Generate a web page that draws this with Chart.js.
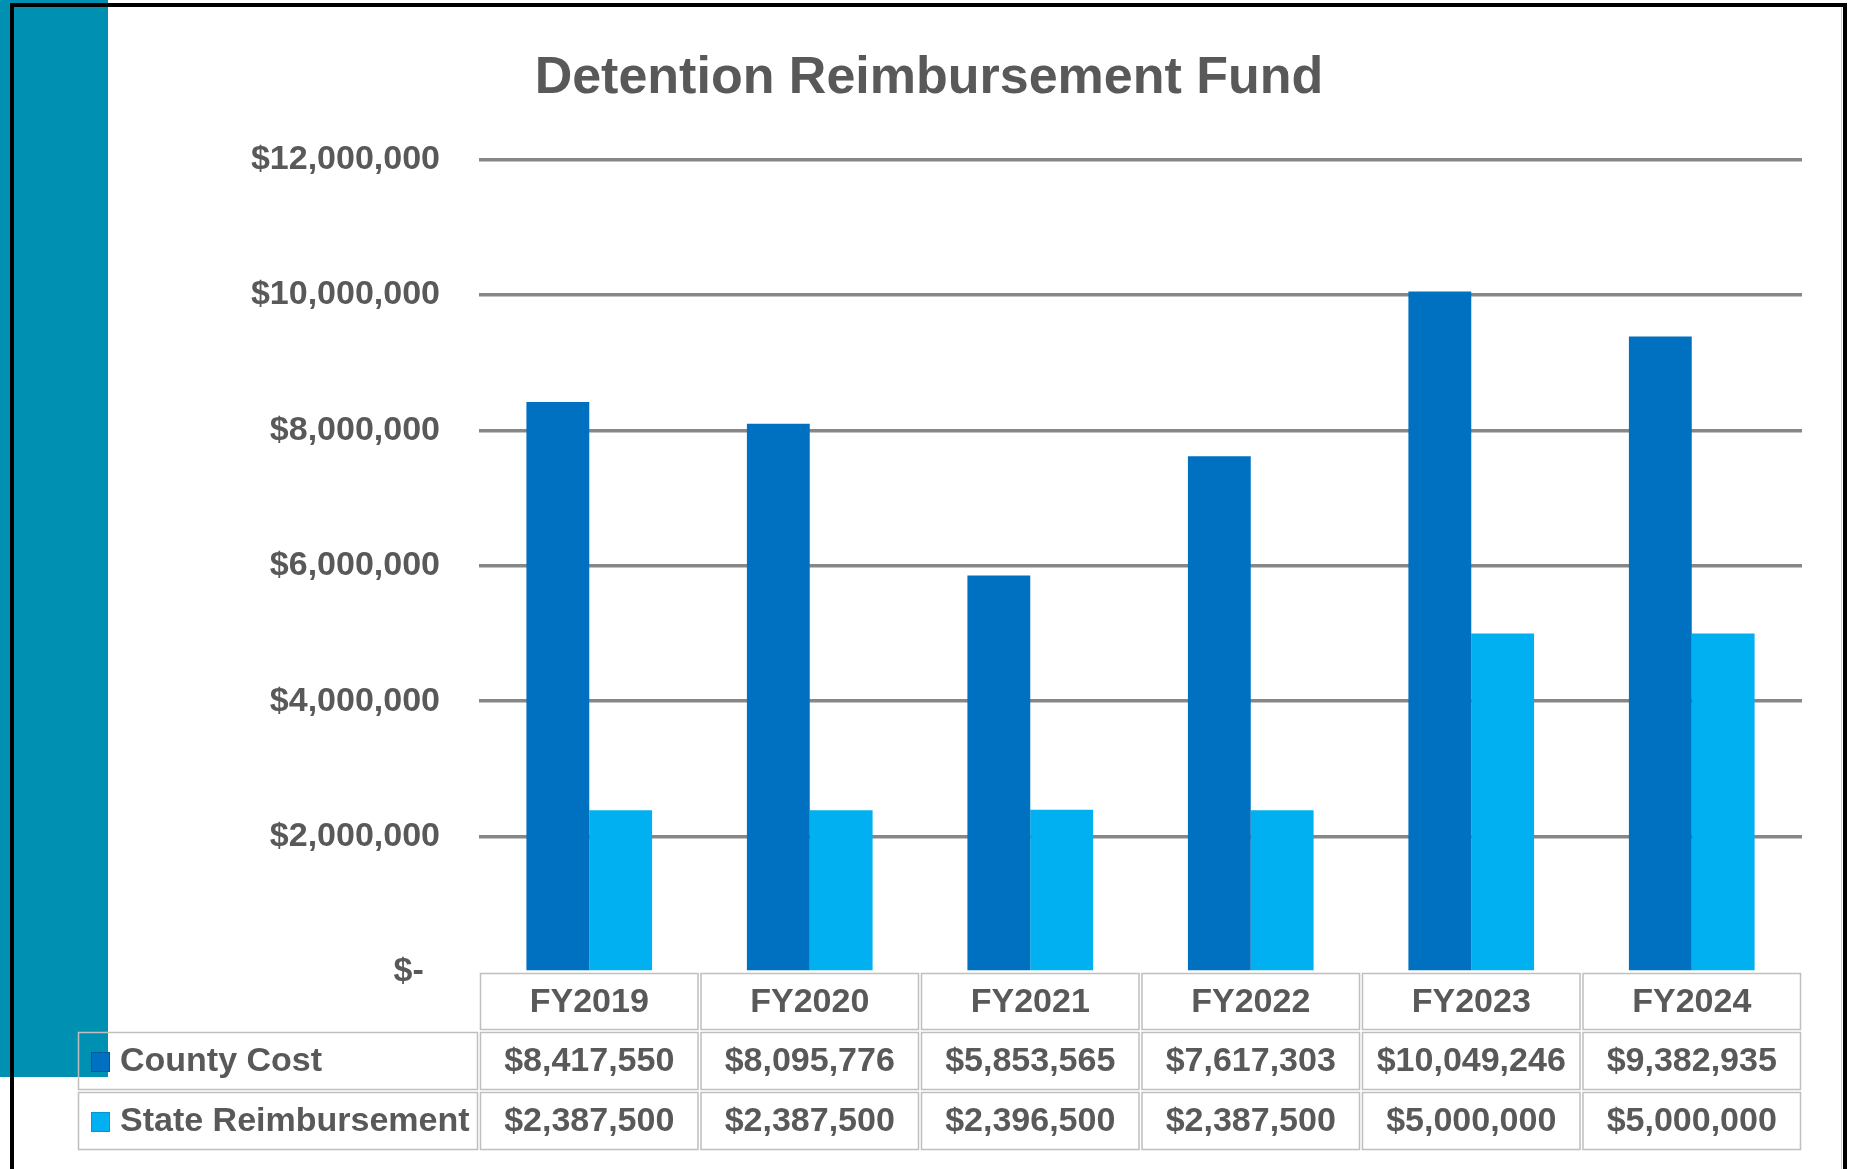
<!DOCTYPE html>
<html>
<head>
<meta charset="utf-8">
<script src="https://cdn.jsdelivr.net/npm/chart.js@4.4.1/dist/chart.umd.min.js"></script>
<style>
html,body{margin:0;padding:0;background:#fff;overflow:hidden}
#wrap{width:1854px;height:1169px;position:relative}
</style>
</head>
<body>
<div id="wrap"><canvas id="chart" width="1854" height="1169"></canvas></div>
<script>
/* DATA */
const years=['FY2019','FY2020','FY2021','FY2022','FY2023','FY2024'];
const countyCost=[8417550,8095776,5853565,7617303,10049246,9382935];
const stateReimb=[2387500,2387500,2396500,2387500,5000000,5000000];
const seriesNames=['County Cost','State Reimbursement'];
const seriesColors=['#0070C0','#00B0F0'];
const yMin=0,yMax=12000000,yStep=2000000;

const FONT="'Liberation Sans', Arial, sans-serif";
const TXT='#595959';
const fmtUsd=v=>'$'+v.toLocaleString('en-US');

/* PLUGINS */
const backdrop={
  id:'backdrop',
  beforeDraw(chart){
    const c=chart.ctx;
    c.save();
    c.fillStyle='#fff';c.fillRect(0,0,chart.width,chart.height);
    c.fillStyle='#0091B2';c.fillRect(0,0,108,1077);
    c.restore();
  },
  afterDraw(chart){
    const c=chart.ctx;
    c.save();
    c.fillStyle='#d0d0d0';c.fillRect(1841,7,1,chart.height);
    c.fillStyle='#000';
    c.fillRect(10,3,1837,4);
    c.fillRect(10,3,4,chart.height);
    c.fillRect(1843,3,4,chart.height);
    c.restore();
  }
};

const dataTable={
  id:'dataTable',
  afterDraw(chart){
    const c=chart.ctx,a=chart.chartArea;
    const colW=(a.right-a.left)/years.length;
    const rowY=[a.bottom,a.bottom+59,a.bottom+119,a.bottom+179];
    const labelLeft=77;
    c.save();
    c.strokeStyle='#bfbfbf';c.lineWidth=1.5;
    const cell=(x0,y0,x1,y1)=>c.strokeRect(x0+1.5,y0+1.5,x1-x0-3,y1-y0-3);
    c.font='bold 34px '+FONT;
    c.fillStyle=TXT;c.textBaseline='middle';c.textAlign='center';
    // header row
    years.forEach((y,i)=>{
      const x0=a.left+i*colW;
      cell(x0,rowY[0],x0+colW,rowY[1]);
      c.fillText(y,x0+colW/2,(rowY[0]+rowY[1])/2+1);
    });
    // series rows
    [countyCost,stateReimb].forEach((vals,r)=>{
      const y0=rowY[r+1],y1=rowY[r+2],ym=(y0+y1)/2+1;
      cell(labelLeft,y0,a.left,y1);
      c.fillStyle=seriesColors[r];
      c.fillRect(91,ym-10,19,20);
      c.strokeStyle=r===0?'#005a9e':'#0098d0';c.lineWidth=1;
      c.strokeRect(91.5,ym-9.5,18,19);
      c.strokeStyle='#bfbfbf';c.lineWidth=1.5;
      c.fillStyle=TXT;c.textAlign='left';
      c.fillText(seriesNames[r],120,ym);
      c.textAlign='center';
      vals.forEach((v,i)=>{
        const x0=a.left+i*colW;
        cell(x0,y0,x0+colW,y1);
        c.fillText(fmtUsd(v),x0+colW/2,ym);
      });
    });
    c.restore();
  }
};

/* CHART */
new Chart(document.getElementById('chart'),{
  type:'bar',
  data:{
    labels:years,
    datasets:[
      {label:seriesNames[0],data:countyCost,backgroundColor:seriesColors[0],categoryPercentage:0.57,barPercentage:1},
      {label:seriesNames[1],data:stateReimb,backgroundColor:seriesColors[1],categoryPercentage:0.57,barPercentage:1}
    ]
  },
  options:{
    responsive:false,animation:false,devicePixelRatio:1,
    layout:{padding:{left:56,right:52,top:0,bottom:197}},
    plugins:{
      legend:{display:false},tooltip:{enabled:false},
      title:{display:true,text:'Detention Reimbursement Fund',color:TXT,
        font:{family:FONT,size:52,weight:'bold'},padding:{top:47,bottom:50}}
    },
    scales:{
      x:{display:false},
      y:{min:yMin,max:yMax,
        ticks:{stepSize:yStep,padding:39,color:TXT,font:{family:FONT,size:34,weight:'bold'},
          callback:v=>v===0?'$- \u2009':fmtUsd(v)},
        grid:{drawTicks:false,lineWidth:3.5,color:ctx=>ctx.tick&&ctx.tick.value===0?'rgba(0,0,0,0)':'#878787'},
        border:{display:false},
        afterFit(s){s.width=423;}
      }
    }
  },
  plugins:[backdrop,dataTable]
});
</script>
</body>
</html>
